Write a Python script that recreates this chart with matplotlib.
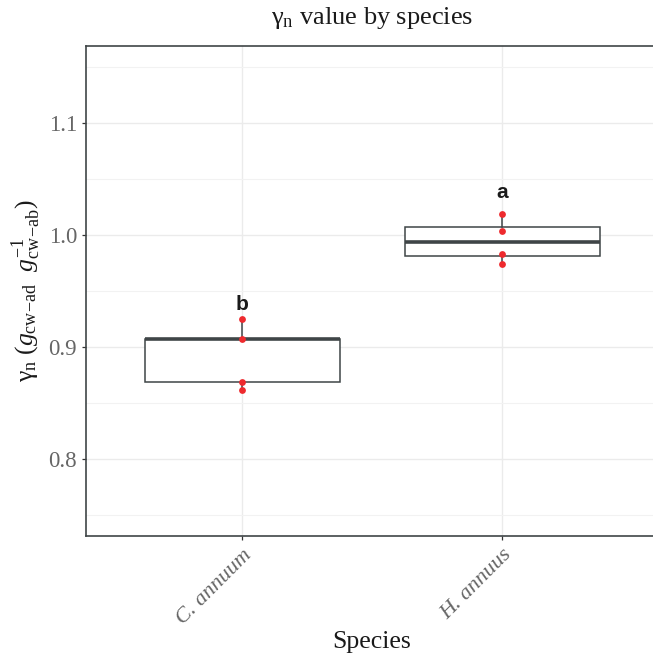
import matplotlib
matplotlib.use("Agg")
import matplotlib.pyplot as plt

plt.rcParams["font.family"] = "Liberation Serif"
plt.rcParams["mathtext.fontset"] = "custom"
plt.rcParams["mathtext.rm"] = "Liberation Serif"
plt.rcParams["mathtext.it"] = "Liberation Serif:italic"
plt.rcParams["mathtext.bf"] = "Liberation Serif:bold"

# data
species = ["C. annuum", "H. annuus"]
points = [[0.9247, 0.9069, 0.8685, 0.8622],
          [1.0190, 1.0038, 0.9833, 0.9744]]
box_q1 = [0.8685, 0.9810]
box_med = [0.9069, 0.9935]
box_q3 = [0.9069, 1.0074]
whis_lo = [0.8622, 0.9744]
whis_hi = [0.9247, 1.0190]
letters = ["b", "a"]
letter_y = [0.938, 1.038]

fig = plt.figure(figsize=(6.53, 6.54), dpi=100)
ax = fig.add_axes([0.1317, 0.1797, 0.876, 0.7507])

stats = []
for i in range(len(species)):
    stats.append(dict(med=box_med[i], q1=box_q1[i], q3=box_q3[i],
                      whislo=whis_lo[i], whishi=whis_hi[i], fliers=[]))

edge = "#3f4547"
ax.bxp(stats, positions=[1, 2], widths=0.75, showcaps=False, patch_artist=True,
       boxprops=dict(facecolor="white", edgecolor=edge, linewidth=1.1),
       whiskerprops=dict(color=edge, linewidth=1.1),
       medianprops=dict(color=edge, linewidth=2.6, solid_capstyle="butt"),
       zorder=3)

for i, vals in enumerate(points):
    ax.scatter([i + 1] * len(vals), vals, s=24, color="#ee2a2e", zorder=4,
               linewidths=0)
    ax.text(i + 1, letter_y[i], letters[i], ha="center", va="center",
            fontsize=15, fontweight="bold", family="Liberation Sans",
            color="#1a1a1a", zorder=5)

ax.set_xlim(0.4, 2.6)
ax.set_ylim(0.73125, 1.16875)
ax.set_xticks([1, 2])
ax.set_xticklabels(species, rotation=45, ha="right", va="top",
                   rotation_mode="anchor", style="italic", fontsize=16,
                   color="#666666")
ax.set_yticks([0.8, 0.9, 1.0, 1.1])
ax.set_yticklabels(["0.8", "0.9", "1.0", "1.1"], fontsize=16.5, color="#666666")
ax.set_yticks([0.75, 0.85, 0.95, 1.05, 1.15], minor=True)

ax.grid(True, which="major", color="#ebebeb", linewidth=1.0, zorder=0)
ax.grid(True, which="minor", axis="y", color="#f2f2f2", linewidth=0.8, zorder=0)
ax.set_axisbelow(True)
ax.tick_params(axis="both", which="major", length=3, color="#333333", width=0.9)
ax.tick_params(axis="y", which="minor", length=0)
for sp in ax.spines.values():
    sp.set_color("#3f4547")
    sp.set_linewidth(1.2)

ax.set_xlabel("Species", fontsize=18.5, color="#1a1a1a", labelpad=2)
ax.set_ylabel(r"$\mathrm{\gamma}_{\rm n}\ (g_{\rm cw\!-\!ad}\ \ g^{-1}_{\rm cw\!-\!ab})$",
              fontsize=18.5, color="#1a1a1a", labelpad=4)
fig.text(372 / 653, 1 - 18 / 654, r"$\mathrm{\gamma}_{\rm n}$ value by species",
         ha="center", va="center", fontsize=19, color="#1a1a1a")

fig.savefig("out.png", dpi=100)
